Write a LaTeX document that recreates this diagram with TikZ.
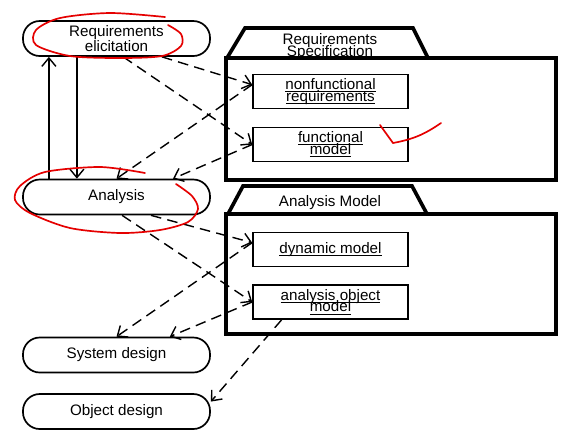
\documentclass[tikz,border=0pt]{standalone}
\usepackage{fontspec}
\setmainfont{Liberation Sans}
\usepackage{tikz}
\usetikzlibrary{arrows.meta}

\newcommand{\mdl}[1]{\underline{\raisebox{0pt}[\height][0pt]{#1}}}
\newcommand{\tightlines}{\lineskiplimit=-20pt\relax}

\begin{document}
\begin{tikzpicture}[x=0.025cm,y=-0.025cm,>={Straight Barb[length=6pt,width=10pt]},
    font=\fontsize{10.8}{10.7}\selectfont,
    activity/.style={draw,line width=1.2pt,rounded corners=0.42cm,minimum width=4.675cm,minimum height=0.875cm,inner sep=0pt,align=center},
    pkgbox/.style={draw,line width=2.6pt,minimum width=8.25cm,inner sep=0pt},
    pkgtab/.style={line width=2.6pt,line join=miter},
    model/.style={draw,line width=1.1pt,minimum width=3.875cm,minimum height=0.85cm,inner sep=0pt,align=center,
      font=\fontsize{10.8}{8.3}\selectfont\tightlines},
    dep/.style={->,line width=1pt,dash pattern=on 7.5pt off 4.5pt},
    flow/.style={->,line width=1pt},
    pen/.style={red!90!black,line width=1.2pt,line cap=round}]
  \fill[white] (0,0) rectangle (576,437);
  \useasboundingbox (0,0) rectangle (576,437);

  \node[activity] (reqel) at (116.5,38.5) {Requirements\\elicitation};
  \node[activity] (ana) at (116.5,197) {Analysis};
  \node[activity] (sysd) at (116.5,355) {System design};
  \node[activity] (objd) at (116.5,411.5) {Object design};

  \draw[pkgtab] (227,58) -- (245,28) -- (413,28) -- (428,58);
  \node[pkgbox,minimum height=3.05cm] (rspec) at (391,119) {};
  \node[font=\fontsize{10.8}{8.6}\selectfont\tightlines,align=center] (rspeclbl) at (330,47) {Requirements\\Specification};
  \draw[pkgtab] (228,214) -- (243,186) -- (412,186) -- (427,214);
  \node[pkgbox,minimum height=3.0cm] (amod) at (391,274) {};
  \node (amodlbl) at (330,203) {Analysis Model};

  \node[model] (nfr) at (330.5,91.5) {\mdl{nonfunctional}\\\mdl{requirements}};
  \node[model] (fm) at (330.5,144.5) {\mdl{functional}\\\mdl{model}};
  \node[model] (dyn) at (330.5,249.5) {\mdl{dynamic model}};
  \node[model] (aom) at (330.5,302) {\mdl{analysis object}\\\mdl{model}};

  \draw[flow] ([xshift=-1.69cm]ana.north) -- ([xshift=-1.69cm]reqel.south);
  \draw[flow] ([xshift=-0.99cm]reqel.south) -- ([xshift=-0.99cm]ana.north);

  \draw[dep] (reqel.-22) -- (nfr.175);
  \draw[dep] (reqel.-70) -- (fm.west);
  \draw[dep] (nfr.175) -- (ana.north);
  \draw[dep] (fm.west) -- (ana.18);
  \draw[dep] (ana.-28) -- (dyn.175);
  \draw[dep] (ana.-73) -- (aom.west);
  \draw[dep] (dyn.175) -- (sysd.north);
  \draw[dep] (aom.west) -- (sysd.19);
  \draw[dep] (aom.200) -- (objd.6);

  \draw[pen] plot[smooth] coordinates {(165,17) (110,13) (60,18) (36,30) (36,45) (70,56) (120,58) (162,56) (181,46) (181,34) (168,25)};
  \draw[pen] plot[smooth] coordinates {(176,184) (192,196) (198,209) (188,222) (160,230) (120,233) (70,228) (30,213) (15,200) (20,186) (45,172) (100,167) (145,173)};
  \draw[pen] (380,125) -- (393,143) to[bend right=12] (441,123);
\end{tikzpicture}
\end{document}
